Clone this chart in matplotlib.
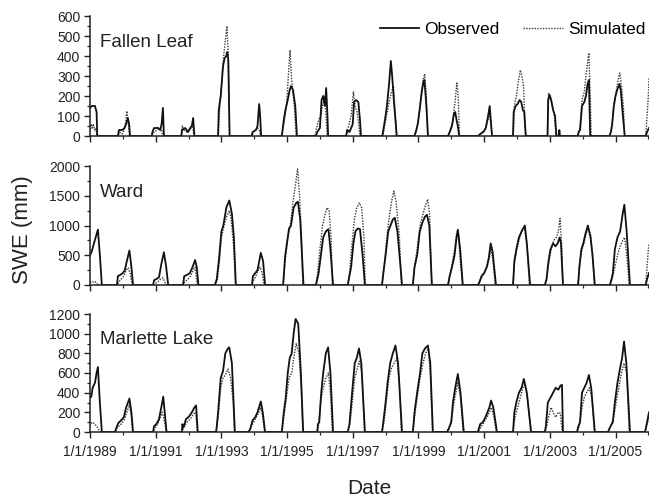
import matplotlib
matplotlib.use('Agg')
import matplotlib.pyplot as plt
from matplotlib.ticker import MultipleLocator, FuncFormatter

plt.rcParams['font.family'] = ['Liberation Sans', 'DejaVu Sans']

# Snow water equivalent (mm), points as (decimal year, SWE)

fallen_obs = [
    (1989.0, 140), (1989.05, 150), (1989.15, 150), (1989.2, 120), (1989.22, 0),
    (1989.85, 0), (1989.88, 30), (1989.98, 30), (1990.05, 40), (1990.1, 60), (1990.15, 90), (1990.19, 60), (1990.22, 0),
    (1990.88, 0), (1990.9, 20), (1990.95, 40), (1991.08, 40), (1991.14, 30), (1991.18, 60), (1991.22, 140), (1991.25, 0),
    (1991.78, 0), (1991.8, 30), (1991.9, 40), (1991.98, 20), (1992.05, 40), (1992.1, 50), (1992.14, 90), (1992.18, 0),
    (1992.9, 0), (1992.92, 130), (1992.98, 200), (1993.05, 350), (1993.1, 390), (1993.15, 400), (1993.18, 420), (1993.21, 380), (1993.25, 0),
    (1993.92, 0), (1993.95, 20), (1994.05, 30), (1994.1, 50), (1994.15, 160), (1994.18, 100), (1994.21, 0),
    (1994.84, 0), (1994.9, 80), (1994.95, 130), (1995.02, 180), (1995.08, 230), (1995.12, 250), (1995.18, 230), (1995.25, 150), (1995.3, 0),
    (1995.88, 0), (1995.92, 20), (1996.0, 40), (1996.05, 180), (1996.1, 200), (1996.15, 150), (1996.19, 240), (1996.23, 100), (1996.25, 0),
    (1996.8, 0), (1996.83, 30), (1996.9, 20), (1996.95, 40), (1997.0, 60), (1997.04, 170), (1997.1, 180), (1997.17, 170), (1997.22, 80), (1997.25, 0),
    (1997.9, 0), (1997.93, 30), (1997.98, 80), (1998.04, 150), (1998.1, 250), (1998.16, 375), (1998.2, 300), (1998.25, 180), (1998.3, 80), (1998.34, 0),
    (1998.88, 0), (1998.92, 20), (1998.98, 60), (1999.05, 150), (1999.1, 220), (1999.15, 270), (1999.18, 280), (1999.22, 200), (1999.26, 100), (1999.29, 0),
    (1999.9, 0), (1999.95, 20), (2000.02, 50), (2000.08, 110), (2000.12, 120), (2000.16, 80), (2000.2, 50), (2000.24, 0),
    (2000.82, 0), (2000.88, 10), (2000.98, 20), (2001.05, 40), (2001.12, 100), (2001.17, 150), (2001.21, 60), (2001.24, 0),
    (2001.88, 0), (2001.9, 120), (2001.96, 150), (2002.02, 160), (2002.08, 180), (2002.13, 170), (2002.18, 130), (2002.22, 120), (2002.27, 0),
    (2002.93, 0), (2002.95, 180), (2002.99, 205), (2003.04, 180), (2003.1, 130), (2003.16, 100), (2003.2, 0), (2003.27, 0), (2003.29, 30), (2003.31, 0),
    (2003.85, 0), (2003.88, 20), (2003.92, 30), (2003.98, 150), (2004.05, 170), (2004.1, 200), (2004.15, 260), (2004.19, 280), (2004.23, 0),
    (2004.82, 0), (2004.86, 20), (2004.9, 60), (2004.95, 150), (2005.0, 200), (2005.05, 230), (2005.12, 260), (2005.16, 230), (2005.2, 150), (2005.25, 60), (2005.28, 0),
    (2005.92, 0), (2005.96, 20), (2006.02, 40),
]

fallen_sim = [
    (1989.0, 20), (1989.03, 60), (1989.07, 40), (1989.1, 60), (1989.14, 30), (1989.18, 40), (1989.21, 0),
    (1989.85, 0), (1989.9, 20), (1989.98, 10), (1990.04, 30), (1990.08, 60), (1990.12, 125), (1990.16, 80), (1990.2, 0),
    (1990.88, 0), (1990.95, 20), (1991.05, 30), (1991.12, 40), (1991.18, 30), (1991.21, 0),
    (1991.78, 0), (1991.81, 50), (1991.86, 30), (1991.95, 20), (1992.05, 30), (1992.12, 60), (1992.16, 0),
    (1992.9, 0), (1992.95, 150), (1993.0, 250), (1993.07, 400), (1993.12, 480), (1993.17, 550), (1993.21, 400), (1993.25, 0),
    (1993.92, 0), (1993.98, 20), (1994.05, 30), (1994.1, 40), (1994.15, 30), (1994.19, 0),
    (1994.84, 0), (1994.92, 80), (1994.98, 150), (1995.03, 280), (1995.09, 430), (1995.14, 280), (1995.22, 150), (1995.28, 0),
    (1995.85, 0), (1995.9, 40), (1995.96, 80), (1996.02, 100), (1996.08, 150), (1996.14, 200), (1996.18, 120), (1996.22, 0),
    (1996.8, 0), (1996.86, 40), (1996.95, 100), (1997.02, 220), (1997.07, 150), (1997.13, 120), (1997.18, 60), (1997.22, 0),
    (1997.92, 0), (1997.98, 60), (1998.05, 120), (1998.12, 180), (1998.18, 220), (1998.24, 250), (1998.3, 100), (1998.33, 0),
    (1998.88, 0), (1998.95, 40), (1999.02, 100), (1999.08, 200), (1999.14, 280), (1999.19, 310), (1999.24, 200), (1999.28, 0),
    (1999.9, 0), (1999.98, 30), (2000.05, 80), (2000.12, 180), (2000.17, 265), (2000.21, 200), (2000.25, 0),
    (2000.82, 0), (2000.95, 20), (2001.05, 40), (2001.12, 80), (2001.17, 110), (2001.22, 40), (2001.24, 0),
    (2001.88, 0), (2001.92, 150), (2001.98, 200), (2002.05, 280), (2002.1, 330), (2002.15, 300), (2002.2, 250), (2002.26, 0),
    (2002.93, 0), (2002.96, 215), (2003.02, 200), (2003.08, 150), (2003.14, 100), (2003.19, 0),
    (2003.85, 0), (2003.92, 40), (2003.98, 180), (2004.05, 220), (2004.1, 300), (2004.16, 380), (2004.19, 415), (2004.23, 200), (2004.26, 0),
    (2004.82, 0), (2004.88, 40), (2004.95, 160), (2005.02, 220), (2005.08, 280), (2005.13, 315), (2005.18, 250), (2005.24, 150), (2005.28, 0),
    (2005.92, 0), (2005.96, 100), (2006.0, 200), (2006.02, 295),
]

ward_obs = [
    (1989.0, 500), (1989.05, 560), (1989.12, 700), (1989.2, 850), (1989.24, 930), (1989.3, 500), (1989.36, 0),
    (1989.82, 0), (1989.85, 150), (1989.92, 170), (1990.0, 200), (1990.06, 250), (1990.12, 400), (1990.2, 580), (1990.26, 300), (1990.31, 0),
    (1990.92, 0), (1990.95, 80), (1991.02, 100), (1991.1, 130), (1991.17, 350), (1991.25, 550), (1991.32, 300), (1991.38, 0),
    (1991.83, 0), (1991.87, 150), (1991.95, 170), (1992.04, 200), (1992.12, 300), (1992.2, 420), (1992.25, 300), (1992.3, 0),
    (1992.8, 0), (1992.86, 100), (1992.93, 450), (1993.0, 900), (1993.06, 1000), (1993.15, 1300), (1993.24, 1420), (1993.32, 1200), (1993.38, 800), (1993.44, 0),
    (1993.93, 0), (1993.96, 150), (1994.03, 200), (1994.1, 250), (1994.15, 400), (1994.2, 540), (1994.27, 400), (1994.33, 0),
    (1994.88, 0), (1994.94, 480), (1995.02, 800), (1995.06, 950), (1995.12, 1000), (1995.2, 1300), (1995.28, 1380), (1995.33, 1400), (1995.4, 1100), (1995.5, 0),
    (1995.88, 0), (1995.92, 100), (1995.96, 200), (1996.03, 500), (1996.1, 800), (1996.18, 900), (1996.26, 940), (1996.32, 600), (1996.4, 0),
    (1996.85, 0), (1996.88, 100), (1996.95, 300), (1997.02, 700), (1997.08, 900), (1997.15, 950), (1997.22, 940), (1997.3, 500), (1997.37, 0),
    (1997.89, 0), (1997.93, 200), (1998.0, 500), (1998.08, 900), (1998.15, 1000), (1998.22, 1100), (1998.28, 1130), (1998.36, 900), (1998.44, 400), (1998.5, 0),
    (1998.83, 0), (1998.88, 300), (1998.96, 500), (1999.04, 900), (1999.12, 1050), (1999.2, 1150), (1999.26, 1180), (1999.33, 1000), (1999.41, 0),
    (1999.9, 0), (1999.95, 150), (2000.02, 300), (2000.1, 500), (2000.16, 800), (2000.2, 930), (2000.27, 600), (2000.35, 0),
    (2000.81, 0), (2000.86, 50), (2000.92, 150), (2001.0, 200), (2001.08, 300), (2001.14, 450), (2001.2, 700), (2001.26, 550), (2001.36, 0),
    (2001.88, 0), (2001.92, 400), (2001.98, 600), (2002.06, 800), (2002.14, 900), (2002.24, 1000), (2002.3, 700), (2002.4, 0),
    (2002.85, 0), (2002.9, 100), (2002.96, 400), (2003.02, 600), (2003.1, 700), (2003.17, 650), (2003.24, 700), (2003.3, 800), (2003.34, 700), (2003.4, 0),
    (2003.86, 0), (2003.9, 300), (2003.96, 600), (2004.02, 700), (2004.08, 850), (2004.16, 1000), (2004.24, 800), (2004.3, 500), (2004.37, 0),
    (2004.83, 0), (2004.88, 100), (2004.92, 200), (2004.98, 600), (2005.06, 800), (2005.14, 900), (2005.22, 1200), (2005.27, 1350), (2005.34, 900), (2005.44, 0),
    (2005.92, 0), (2005.96, 100), (2006.02, 200),
]

ward_sim = [
    (1989.0, 40), (1989.05, 60), (1989.1, 50), (1989.15, 60), (1989.2, 30), (1989.24, 0),
    (1989.82, 0), (1989.88, 50), (1989.95, 100), (1990.03, 150), (1990.1, 250), (1990.16, 290), (1990.22, 200), (1990.28, 0),
    (1990.92, 0), (1991.0, 30), (1991.08, 60), (1991.15, 100), (1991.22, 120), (1991.28, 50), (1991.32, 0),
    (1991.83, 0), (1991.9, 60), (1991.98, 100), (1992.06, 150), (1992.14, 250), (1992.2, 300), (1992.26, 0),
    (1992.82, 0), (1992.88, 100), (1992.94, 400), (1993.0, 800), (1993.08, 1000), (1993.16, 1150), (1993.24, 1250), (1993.3, 1100), (1993.38, 600), (1993.43, 0),
    (1993.93, 0), (1993.98, 80), (1994.05, 150), (1994.12, 250), (1994.18, 300), (1994.24, 200), (1994.3, 0),
    (1994.88, 0), (1994.94, 400), (1995.02, 800), (1995.1, 1000), (1995.18, 1400), (1995.26, 1700), (1995.32, 1950), (1995.38, 1500), (1995.44, 800), (1995.48, 0),
    (1995.88, 0), (1995.93, 200), (1996.0, 600), (1996.08, 1000), (1996.16, 1200), (1996.22, 1300), (1996.28, 1250), (1996.34, 800), (1996.38, 0),
    (1996.85, 0), (1996.9, 200), (1996.98, 700), (1997.05, 1100), (1997.12, 1300), (1997.2, 1380), (1997.27, 1300), (1997.34, 800), (1997.38, 0),
    (1997.89, 0), (1997.94, 200), (1998.02, 700), (1998.1, 1100), (1998.18, 1400), (1998.25, 1580), (1998.32, 1400), (1998.42, 800), (1998.48, 0),
    (1998.83, 0), (1998.88, 300), (1998.96, 600), (1999.05, 1000), (1999.14, 1200), (1999.22, 1350), (1999.28, 1440), (1999.34, 1200), (1999.4, 0),
    (1999.9, 0), (1999.96, 150), (2000.04, 400), (2000.1, 600), (2000.16, 850), (2000.2, 920), (2000.26, 500), (2000.34, 0),
    (2000.81, 0), (2000.9, 100), (2001.0, 200), (2001.08, 300), (2001.14, 400), (2001.2, 600), (2001.26, 450), (2001.34, 0),
    (2001.88, 0), (2001.92, 350), (2001.98, 550), (2002.06, 750), (2002.14, 900), (2002.22, 980), (2002.3, 700), (2002.38, 0),
    (2002.85, 0), (2002.9, 80), (2002.96, 350), (2003.04, 600), (2003.12, 750), (2003.2, 800), (2003.26, 900), (2003.31, 1120), (2003.36, 700), (2003.4, 0),
    (2003.86, 0), (2003.9, 300), (2003.96, 550), (2004.04, 700), (2004.1, 850), (2004.16, 950), (2004.24, 850), (2004.3, 500), (2004.36, 0),
    (2004.83, 0), (2004.9, 100), (2004.98, 300), (2005.06, 500), (2005.14, 650), (2005.22, 750), (2005.28, 800), (2005.34, 500), (2005.42, 0),
    (2005.92, 0), (2005.96, 300), (2006.0, 600), (2006.02, 700),
]

marlette_obs = [
    (1989.0, 350), (1989.04, 360), (1989.08, 450), (1989.15, 500), (1989.2, 600), (1989.24, 660), (1989.3, 300), (1989.36, 0),
    (1989.76, 0), (1989.8, 40), (1989.86, 90), (1989.95, 120), (1990.03, 150), (1990.1, 250), (1990.2, 340), (1990.26, 200), (1990.31, 0),
    (1990.92, 0), (1990.95, 60), (1991.02, 80), (1991.1, 130), (1991.17, 250), (1991.23, 360), (1991.29, 150), (1991.33, 0),
    (1991.8, 0), (1991.81, 80), (1991.85, 50), (1991.92, 130), (1992.02, 160), (1992.1, 200), (1992.18, 250), (1992.23, 270), (1992.28, 0),
    (1992.84, 0), (1992.86, 60), (1992.9, 200), (1992.98, 550), (1993.05, 620), (1993.12, 800), (1993.2, 850), (1993.24, 860), (1993.32, 700), (1993.41, 0),
    (1993.82, 0), (1993.88, 30), (1993.95, 120), (1994.03, 150), (1994.1, 200), (1994.2, 310), (1994.26, 200), (1994.33, 0),
    (1994.84, 0), (1994.9, 200), (1994.96, 350), (1995.02, 600), (1995.08, 750), (1995.14, 800), (1995.2, 1000), (1995.26, 1150), (1995.34, 1100), (1995.42, 600), (1995.49, 0),
    (1995.92, 0), (1995.94, 80), (1995.98, 100), (1996.04, 400), (1996.1, 600), (1996.18, 800), (1996.25, 860), (1996.32, 600), (1996.4, 0),
    (1996.85, 0), (1996.9, 80), (1996.98, 400), (1997.06, 700), (1997.12, 750), (1997.19, 850), (1997.26, 700), (1997.37, 0),
    (1997.89, 0), (1997.93, 100), (1998.0, 300), (1998.06, 500), (1998.14, 700), (1998.22, 800), (1998.3, 880), (1998.38, 700), (1998.5, 0),
    (1998.83, 0), (1998.88, 200), (1998.96, 400), (1999.05, 600), (1999.12, 800), (1999.2, 850), (1999.29, 880), (1999.36, 700), (1999.44, 0),
    (1999.87, 0), (1999.92, 30), (2000.0, 100), (2000.05, 300), (2000.12, 450), (2000.2, 590), (2000.28, 400), (2000.38, 0),
    (2000.81, 0), (2000.88, 80), (2000.96, 100), (2001.04, 150), (2001.1, 200), (2001.16, 250), (2001.21, 320), (2001.28, 250), (2001.39, 0),
    (2001.88, 0), (2001.92, 200), (2001.98, 300), (2002.06, 400), (2002.14, 450), (2002.21, 540), (2002.3, 400), (2002.43, 0),
    (2002.85, 0), (2002.88, 60), (2002.94, 300), (2003.02, 350), (2003.1, 400), (2003.18, 450), (2003.26, 430), (2003.32, 470), (2003.37, 480), (2003.4, 0),
    (2003.83, 0), (2003.86, 50), (2003.92, 100), (2003.98, 400), (2004.05, 450), (2004.12, 500), (2004.19, 580), (2004.26, 450), (2004.37, 0),
    (2004.77, 0), (2004.85, 60), (2004.92, 100), (2004.98, 300), (2005.06, 500), (2005.14, 650), (2005.2, 750), (2005.26, 920), (2005.33, 700), (2005.44, 0),
    (2005.9, 0), (2005.93, 50), (2005.97, 120), (2006.02, 200),
]

marlette_sim = [
    (1989.0, 60), (1989.04, 90), (1989.08, 100), (1989.14, 80), (1989.2, 60), (1989.26, 30), (1989.3, 0),
    (1989.76, 0), (1989.84, 50), (1989.95, 80), (1990.05, 130), (1990.12, 200), (1990.2, 280), (1990.26, 150), (1990.3, 0),
    (1990.92, 0), (1990.98, 40), (1991.06, 80), (1991.14, 150), (1991.2, 200), (1991.26, 120), (1991.32, 0),
    (1991.8, 0), (1991.86, 50), (1991.95, 100), (1992.05, 130), (1992.14, 180), (1992.22, 200), (1992.27, 0),
    (1992.84, 0), (1992.9, 150), (1992.98, 450), (1993.05, 550), (1993.12, 580), (1993.2, 640), (1993.28, 550), (1993.36, 300), (1993.4, 0),
    (1993.84, 0), (1993.9, 50), (1993.98, 100), (1994.06, 150), (1994.14, 200), (1994.2, 250), (1994.26, 150), (1994.32, 0),
    (1994.84, 0), (1994.92, 200), (1995.0, 400), (1995.06, 550), (1995.14, 600), (1995.2, 750), (1995.28, 900), (1995.36, 800), (1995.44, 400), (1995.48, 0),
    (1995.92, 0), (1995.96, 80), (1996.02, 300), (1996.1, 450), (1996.18, 550), (1996.26, 600), (1996.32, 400), (1996.38, 0),
    (1996.85, 0), (1996.92, 100), (1997.0, 350), (1997.06, 550), (1997.14, 650), (1997.2, 720), (1997.28, 600), (1997.36, 0),
    (1997.89, 0), (1997.95, 100), (1998.02, 300), (1998.1, 550), (1998.18, 650), (1998.26, 700), (1998.34, 750), (1998.42, 500), (1998.48, 0),
    (1998.83, 0), (1998.88, 150), (1998.96, 350), (1999.05, 550), (1999.14, 700), (1999.22, 800), (1999.3, 850), (1999.36, 600), (1999.43, 0),
    (1999.87, 0), (1999.94, 50), (2000.02, 150), (2000.08, 300), (2000.14, 400), (2000.2, 500), (2000.28, 350), (2000.36, 0),
    (2000.81, 0), (2000.9, 50), (2001.0, 100), (2001.08, 150), (2001.16, 200), (2001.22, 250), (2001.3, 150), (2001.37, 0),
    (2001.88, 0), (2001.94, 150), (2002.02, 250), (2002.1, 350), (2002.18, 450), (2002.24, 480), (2002.32, 350), (2002.42, 0),
    (2002.85, 0), (2002.9, 50), (2002.96, 150), (2003.04, 250), (2003.1, 200), (2003.18, 150), (2003.26, 200), (2003.32, 190), (2003.38, 0),
    (2003.83, 0), (2003.9, 60), (2003.98, 250), (2004.05, 350), (2004.12, 400), (2004.2, 450), (2004.28, 350), (2004.36, 0),
    (2004.77, 0), (2004.86, 60), (2004.94, 150), (2005.02, 300), (2005.1, 450), (2005.18, 600), (2005.26, 700), (2005.34, 600), (2005.42, 0),
    (2005.9, 0), (2005.95, 60), (2006.02, 150),
]

site_names = ['Fallen Leaf', 'Ward', 'Marlette Lake']
y_max = [600, 2000, 1200]
y_major = [100, 500, 200]
y_minor = [50, 250, 100]

fig = plt.figure(figsize=(6.49, 5.0), dpi=100)

# panel boxes in figure fractions: [left, bottom, width, height]
boxes = [[0.1387, 0.728, 0.8613, 0.240],
         [0.1387, 0.430, 0.8613, 0.238],
         [0.1387, 0.136, 0.8613, 0.236]]

series = [(fallen_obs, fallen_sim), (ward_obs, ward_sim), (marlette_obs, marlette_sim)]

axes = []
for i, (obs, sim) in enumerate(series):
    ax = fig.add_axes(boxes[i])
    axes.append(ax)

    ax.plot([p[0] for p in sim], [p[1] for p in sim], color='#3a3a3a',
            linestyle=(0, (1, 1)), lw=1.0, label='Simulated')
    ax.plot([p[0] for p in obs], [p[1] for p in obs], color='#111111',
            linestyle='-', lw=1.3, label='Observed')

    ax.set_xlim(1989.0, 2006.02)
    ax.set_ylim(0, y_max[i])

    ax.spines['top'].set_visible(False)
    ax.spines['right'].set_visible(False)
    for s in ['left', 'bottom']:
        ax.spines[s].set_linewidth(1.1)
        ax.spines[s].set_color('#222222')

    # labelled ticks on Jan 1 of odd years, unlabelled ones on even years
    ax.xaxis.set_major_locator(MultipleLocator(2, offset=1))
    ax.xaxis.set_minor_locator(MultipleLocator(1))
    ax.yaxis.set_major_locator(MultipleLocator(y_major[i]))
    ax.yaxis.set_minor_locator(MultipleLocator(y_minor[i]))
    ax.xaxis.set_major_formatter(FuncFormatter(lambda v, pos: f'1/1/{int(round(v))}'))

    ax.tick_params(which='major', direction='out', length=4, width=1.0, labelsize=10,
                   colors='#222222', pad=3)
    ax.tick_params(which='minor', direction='out', length=2.5, width=0.9, colors='#222222')
    ax.tick_params(axis='x', which='major', pad=5)
    if i < 2:
        ax.tick_params(axis='x', labelbottom=False)

    ax.text(0.018, 0.78, site_names[i], transform=ax.transAxes, fontsize=13.5,
            ha='left', va='center', color='#222222')

# legend in the top panel, handles ordered as in the reference
h, l = axes[0].get_legend_handles_labels()
axes[0].legend([h[1], h[0]], [l[1], l[0]], loc='center right', ncol=2, frameon=False,
               fontsize=12.5, handlelength=2.25, handletextpad=0.3, columnspacing=1.4,
               borderpad=0, borderaxespad=0,
               bbox_to_anchor=(0.994, 0.942), bbox_transform=fig.transFigure)

fig.text(0.034, 0.54, 'SWE (mm)', rotation=90, ha='center', va='center',
         fontsize=16, color='#222222')
fig.text(0.569, 0.022, 'Date', ha='center', va='center', fontsize=15, color='#222222')

fig.savefig('out.png', dpi=100)
